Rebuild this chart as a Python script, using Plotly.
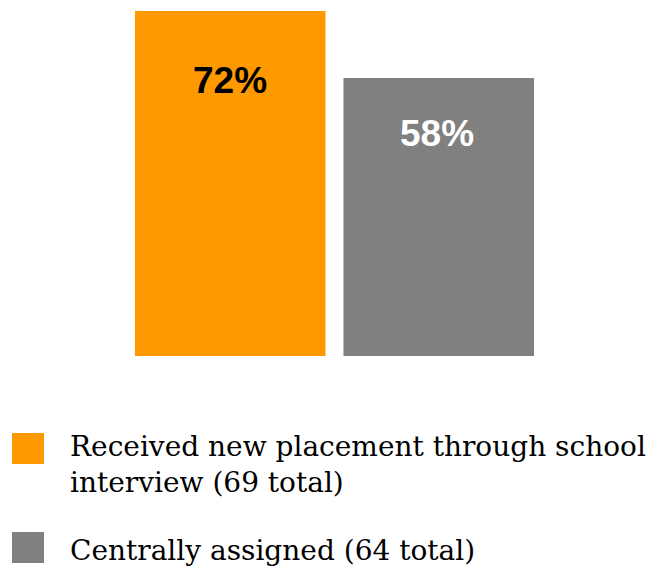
import plotly.graph_objects as go

# Share of teachers, by how they got their new placement
categories = ["Received new placement through school<br>interview (69 total)",
              "Centrally assigned (64 total)"]
values = [72, 58]
labels = ["72%", "58%"]
colors = ["#FF9900", "#808080"]
label_colors = ["#000000", "#FFFFFF"]

W, H = 648, 568
L, R, T, B = 126, 105, 11, 212
PW, PH = W - L - R, H - T - B

def px_x(x):
    return (x - L) / PW

def px_y(y):
    return (H - B - y) / PH

fig = go.Figure()
fig.add_trace(go.Bar(
    x=[0, 1], y=values, width=0.914,
    marker=dict(color=colors, line=dict(width=0)),
    hoverinfo="skip", showlegend=False,
))

# value labels inside each bar
for i, (v, t, c) in enumerate(zip(values, labels, label_colors)):
    fig.add_annotation(x=i - 0.01 * i, y=v * 0.8, xref="x", yref="y", text=f"<b>{t}</b>",
                       showarrow=False, xanchor="center", yanchor="middle",
                       font=dict(family="Liberation Sans, Arial", size=37, color=c))

# legend drawn below the plot: square top edge and text top edge, in pixels
legend_squares = [433, 532]
legend_text_tops = [428, 532]
for cat, col, ys, yt in zip(categories, colors, legend_squares, legend_text_tops):
    fig.add_shape(type="rect", xref="paper", yref="paper",
                  x0=px_x(12), x1=px_x(44), y0=px_y(ys), y1=px_y(ys + 31),
                  fillcolor=col, line=dict(width=0))
    fig.add_annotation(x=px_x(68), y=px_y(yt), xref="paper", yref="paper",
                       text=cat, showarrow=False, xanchor="left", yanchor="top",
                       align="left",
                       font=dict(family="DejaVu Serif", size=28, color="#000000"))

fig.update_layout(
    width=W, height=H,
    margin=dict(l=L, r=R, t=T, b=B),
    paper_bgcolor="white", plot_bgcolor="white",
    xaxis=dict(range=[-0.5, 1.5], visible=False, fixedrange=True),
    yaxis=dict(range=[0, 72], visible=False, fixedrange=True),
    showlegend=False,
)
fig.write_html("out.html", config={"displayModeBar": False})
